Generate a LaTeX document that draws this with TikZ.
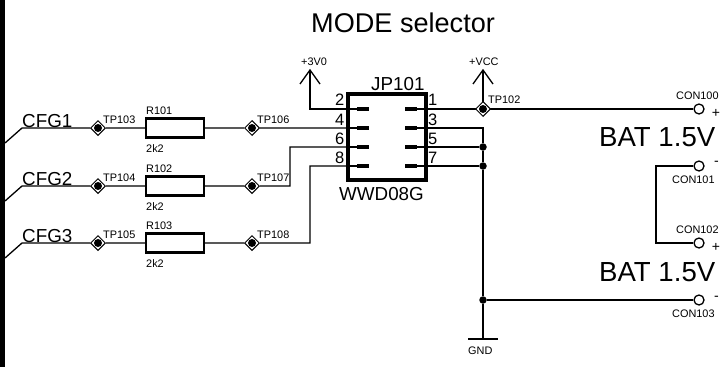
\documentclass[tikz,border=0pt]{standalone}
\usepackage{fontspec}
\setmainfont{Liberation Sans}
\usetikzlibrary{shapes.geometric}
\tikzset{
	wire/.style={line width=1.3pt},
	testpt/.style={diamond,draw,fill=white,line width=1pt,minimum size=15pt,inner sep=0pt},
	respart/.style={draw,line width=2.2pt,fill=white,minimum width=58pt,minimum height=19pt,inner sep=0pt},
	conpt/.style={circle,draw,line width=1.3pt,fill=white,minimum size=10pt,inner sep=0pt},
	junct/.style={circle,fill=black,minimum size=7.5pt,inner sep=0pt},
	small/.style={font=\fontsize{10.9}{12}\selectfont,anchor=base west,inner sep=0pt},
	pinno/.style={font=\fontsize{16.5}{18}\selectfont,anchor=base east,inner sep=0pt},
	sign/.style={font=\fontsize{14}{16}\selectfont,anchor=base west,inner sep=0pt},
	mid/.style={font=\fontsize{18.8}{20}\selectfont,anchor=base west,inner sep=0pt},
	big/.style={font=\fontsize{27.6}{29}\selectfont,anchor=base west,inner sep=0pt},
}
\begin{document}
\begin{tikzpicture}[x=1pt,y=-1pt,line join=miter]
	\clip (0,0) rectangle (720,367);
	\fill[white] (0,0) rectangle (720,367);
	\fill (0,0) rectangle (5,367);
	\node[big,font=\fontsize{27.1}{29}\selectfont] (title) at (311,32) {MODE selector};

	% connector box
	\draw[line width=3.6pt] (348,94) rectangle (426,180);
	\coordinate (P2) at (348,109);
	\coordinate (P4) at (348,128);
	\coordinate (P6) at (348,147);
	\coordinate (P8) at (348,166);
	\coordinate (P1) at (426,109);
	\coordinate (P3) at (426,128);
	\coordinate (P5) at (426,147);
	\coordinate (P7) at (426,166);
	\draw[wire] (P2)--(369,109) (P4)--(369,128) (P6)--(369,147) (P8)--(369,166)
		(405,109)--(P1) (405,128)--(P3) (405,147)--(P5) (405,166)--(P7);
	\draw[line width=3.4pt] (357,109)--(369,109) (357,128)--(369,128) (357,147)--(369,147) (357,166)--(369,166)
		(405,109)--(417,109) (405,128)--(417,128) (405,147)--(417,147) (405,166)--(417,166);
	\node[mid] (jpname) at (371,90) {JP101};
	\node[mid] (jptype) at (339,200) {WWD08G};
	\node[pinno] (pin2) at (344.5,105.5) {2};
	\node[pinno] (pin4) at (344.5,125) {4};
	\node[pinno] (pin6) at (344.5,144) {6};
	\node[pinno] (pin8) at (344.5,163) {8};
	\node[pinno,anchor=base west] (pin1) at (428,105.5) {1};
	\node[pinno,anchor=base west] (pin3) at (428,125) {3};
	\node[pinno,anchor=base west] (pin5) at (428,144) {5};
	\node[pinno,anchor=base west] (pin7) at (428,163) {7};

	% supply
	\coordinate (V3top) at (310,70);
	\coordinate (VCCtop) at (483,70);
	\draw[wire] (V3top)--(310,109)--(P2);
	\draw[wire] (300,84)--(V3top)--(320,84);
	\draw[wire] (473,84)--(VCCtop)--(493,84);
	\node[small] (lbl3V) at (301,65) {+3V0};
	\node[small] (lblVCC) at (469,65) {+VCC};

	% right side
	\node[conpt] (CON100) at (699,109) {};
	\node[conpt] (CON101) at (699,166) {};
	\node[conpt] (CON102) at (699,243) {};
	\node[conpt] (CON103) at (699,300) {};
	\node[junct] (J5) at (483,147) {};
	\node[junct] (J7) at (483,166) {};
	\node[junct] (JB) at (483,300) {};
	\coordinate (GNDp) at (483,339);
	\draw[wire] (P1)--(CON100);
	\draw[wire] (VCCtop)--(483,109);
	\draw[wire] (P3)--(483,128)--(J5)--(J7)--(JB)--(GNDp);
	\draw[wire] (P5)--(J5);
	\draw[wire] (P7)--(J7);
	\draw[wire] (JB)--(CON103);
	\draw[wire] (CON101)--(656,166)--(656,243)--(CON102);
	\draw[line width=1.8pt] (468,339)--(498,339);
	\node[small] (lblGND) at (468,354) {GND};
	\node[testpt] (TP102) at (483,109) {};
	\fill (TP102) circle (4);
	\node[small] (lblTP102) at (488,103) {TP102};
	\node[small] (lblCON100) at (676,99) {CON100};
	\node[small] (lblCON101) at (672,183) {CON101};
	\node[small] (lblCON102) at (676,233) {CON102};
	\node[small] (lblCON103) at (672,317) {CON103};
	\node[big] (bat1) at (599,146) {BAT 1.5V};
	\node[big] (bat2) at (599,281) {BAT 1.5V};
	\node[sign] (plus1) at (711.6,117) {+};
	\node[sign] (minus1) at (714,165) {-};
	\node[sign] (plus2) at (711.6,251) {+};
	\node[sign] (minus2) at (714,300) {-};

	% CFG1
	\coordinate (CFG1a) at (5,143);
	\coordinate (CFG1b) at (22,128);
	\node[testpt] (TP103) at (98,128) {};
	\node[respart] (R101) at (175,128) {};
	\node[testpt] (TP106) at (252,128) {};
	\draw[wire] (CFG1a)--(CFG1b)--(TP103)--(R101)--(TP106)--(P4);
	\fill (TP103) circle (4) (TP106) circle (4);
	\node[mid] (lblCFG1) at (22,127.5) {CFG1};
	\node[small] (lblTP103) at (103,123) {TP103};
	\node[small] (lblR101) at (146,114) {R101};
	\node[small] (val101) at (146,152) {2k2};
	\node[small] (lblTP106) at (257,123) {TP106};

	% CFG2
	\coordinate (CFG2a) at (5,201);
	\coordinate (CFG2b) at (22,186);
	\node[testpt] (TP104) at (98,186) {};
	\node[respart] (R102) at (175,186) {};
	\node[testpt] (TP107) at (252,186) {};
	\draw[wire] (CFG2a)--(CFG2b)--(TP104)--(R102)--(TP107)--(290,186)--(290,147)--(P6);
	\fill (TP104) circle (4) (TP107) circle (4);
	\node[mid] (lblCFG2) at (22,185.5) {CFG2};
	\node[small] (lblTP104) at (103,181) {TP104};
	\node[small] (lblR102) at (146,172) {R102};
	\node[small] (val102) at (146,210) {2k2};
	\node[small] (lblTP107) at (257,181) {TP107};

	% CFG3
	\coordinate (CFG3a) at (5,258);
	\coordinate (CFG3b) at (22,243);
	\node[testpt] (TP105) at (98,243) {};
	\node[respart] (R103) at (175,243) {};
	\node[testpt] (TP108) at (252,243) {};
	\draw[wire] (CFG3a)--(CFG3b)--(TP105)--(R103)--(TP108)--(310,243)--(310,166)--(P8);
	\fill (TP105) circle (4) (TP108) circle (4);
	\node[mid] (lblCFG3) at (22,242.5) {CFG3};
	\node[small] (lblTP105) at (103,238) {TP105};
	\node[small] (lblR103) at (146,229) {R103};
	\node[small] (val103) at (146,267) {2k2};
	\node[small] (lblTP108) at (257,238) {TP108};
\end{tikzpicture}
\end{document}
